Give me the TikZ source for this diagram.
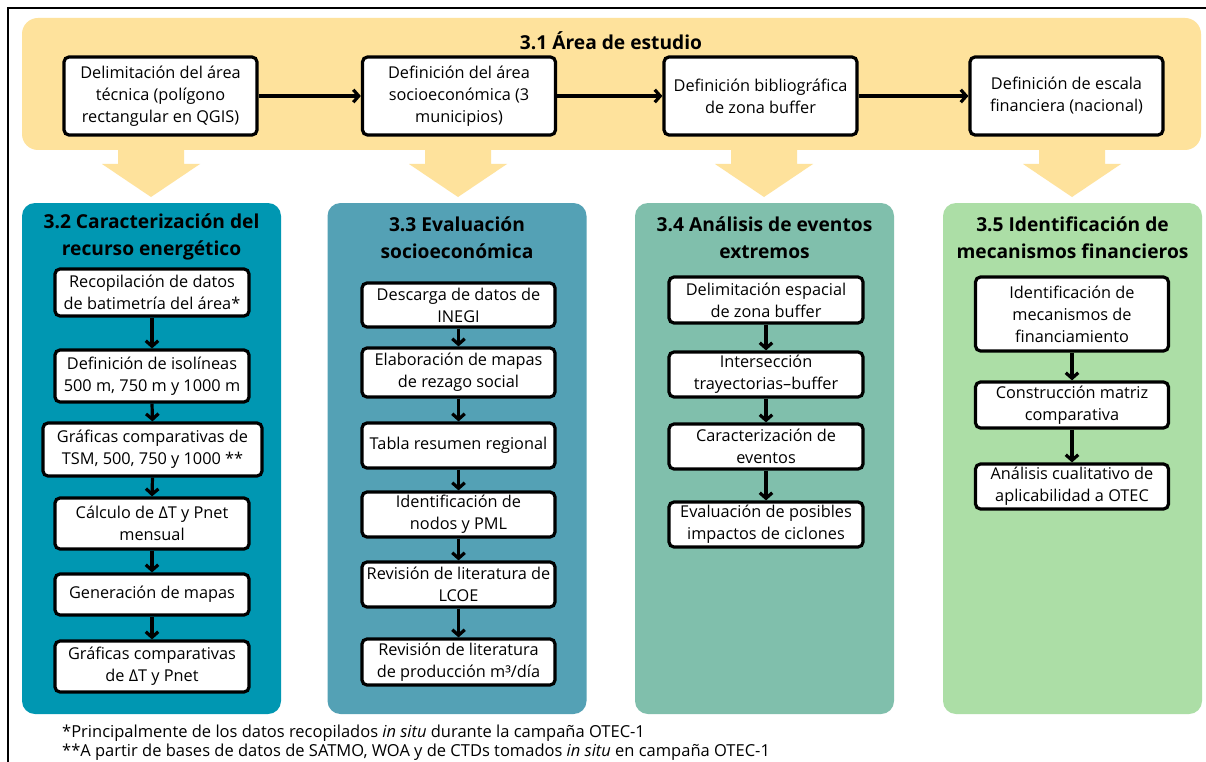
\documentclass[tikz,border=0pt]{standalone}
\usepackage{fontspec}
\setmainfont{Open Sans}
\usetikzlibrary{arrows.meta}

\definecolor{bandyellow}{HTML}{FEE29C}
\definecolor{panelteal}{HTML}{0097B2}
\definecolor{panelblue}{HTML}{54A1B5}
\definecolor{panelsea}{HTML}{80BFAC}
\definecolor{panelgreen}{HTML}{ACDEA6}

\begin{document}
\begin{tikzpicture}[x=1pt, y=-1pt,
    stepbox/.style={draw, line width=3.2pt, fill=white, rounded corners=5pt, align=center, inner sep=0pt, font=\fontsize{16.3}{22}\selectfont},
    panel/.style={rounded corners=13pt, minimum width=259pt, minimum height=511pt, inner sep=0pt},
    paneltitle/.style={align=center, inner sep=0pt, font=\bfseries\fontsize{19.2}{27}\selectfont},
    flow/.style={line width=3.2pt, -{Straight Barb[length=5.5pt,width=12.5pt]}}]
    \useasboundingbox (0,0) rectangle (1206,762);
    \fill[white] (0,0) rectangle (1206,762);
    \draw[line width=1.8pt] (8,762) -- (8,8) -- (1206,8);
    % Study area band
    \node[fill=bandyellow, rounded corners=16pt, minimum width=1179pt, minimum height=132pt, inner sep=0pt] (area) at (611.5,84) {};
    \node[paneltitle] (areatitle) at (611,41) {3.1 Área de estudio};
    \node[stepbox, minimum width=193pt, minimum height=78pt] (delim) at (160.5,96) {Delimitación del área\\técnica (polígono\\rectangular en QGIS)};
    \node[stepbox, minimum width=193pt, minimum height=78pt] (socio) at (459,96) {Definición del área\\socioeconómica (3\\municipios)};
    \node[stepbox, minimum width=193pt, minimum height=78pt] (biblio) at (760.5,96) {Definición bibliográfica\\de zona buffer};
    \node[stepbox, minimum width=193pt, minimum height=78pt] (escala) at (1066.5,96) {Definición de escala\\financiera (nacional)};
    \draw[flow] (delim.east) -- (socio.west);
    \draw[flow] (socio.east) -- (biblio.west);
    \draw[flow] (biblio.east) -- (escala.west);
    % Big arrows down to the sections
    \foreach \cx in {151,458,764,1072}
        \fill[bandyellow] ({\cx-33},148) -- ({\cx+33},148) -- ({\cx+33},164) -- ({\cx+49},164) -- (\cx,197) -- ({\cx-49},164) -- ({\cx-33},164) -- cycle;
    % Sections
    \node[panel, fill=panelteal] (recurso) at (151.5,458.5) {};
    \node[panel, fill=panelblue] (socioeco) at (457,458.5) {};
    \node[panel, fill=panelsea] (eventos) at (764.5,458.5) {};
    \node[panel, fill=panelgreen] (finanzas) at (1072.5,458.5) {};
    \node[paneltitle] (recursotitle) at (151.5,237) {3.2 Caracterización del\\recurso energético};
    \node[paneltitle] (socioecotitle) at (457,238) {3.3 Evaluación\\socioeconómica};
    \node[paneltitle] (eventostitle) at (764.5,238) {3.4 Análisis de eventos\\extremos};
    \node[paneltitle] (finanzastitle) at (1072.5,238) {3.5 Identificación de\\mecanismos financieros};
    % 3.2 steps
    \node[stepbox, minimum width=194pt, minimum height=47pt] (batim) at (152,292.5) {Recopilación de datos\\de batimetría del área*};
    \node[stepbox, minimum width=194pt, minimum height=52pt] (isolin) at (152,376) {Definición de isolíneas\\500 m, 750 m y 1000 m};
    \node[stepbox, minimum width=219pt, minimum height=53pt] (tsm) at (152.5,449.5) {Gráficas comparativas de\\TSM, 500, 750 y 1000 **};
    \node[stepbox, minimum width=194pt, minimum height=51pt] (calculo) at (152,523.5) {Cálculo de ΔT y Pnet\\mensual};
    \node[stepbox, minimum width=194pt, minimum height=41pt] (mapas) at (152,594.5) {Generación de mapas};
    \node[stepbox, minimum width=194pt, minimum height=51pt] (graf) at (152,666.5) {Gráficas comparativas\\de ΔT y Pnet};
    \draw[flow] (batim.south) -- (isolin.north);
    \draw[flow] (isolin.south) -- (tsm.north);
    \draw[flow] (tsm.south) -- (calculo.north);
    \draw[flow] (calculo.south) -- (mapas.north);
    \draw[flow] (mapas.south) -- (graf.north);
    % 3.3 steps
    \node[stepbox, minimum width=193pt, minimum height=44pt] (inegi) at (458.5,305) {Descarga de datos de\\INEGI};
    \node[stepbox, minimum width=193pt, minimum height=49pt] (rezago) at (458.5,372.5) {Elaboración de mapas\\de rezago social};
    \node[stepbox, minimum width=193pt, minimum height=45pt] (tabla) at (458.5,445.5) {Tabla resumen regional};
    \node[stepbox, minimum width=193pt, minimum height=45pt] (nodos) at (458.5,514.5) {Identificación de\\nodos y PML};
    \node[stepbox, minimum width=193pt, minimum height=45pt] (lcoe) at (458.5,584.5) {Revisión de literatura de\\LCOE};
    \node[stepbox, minimum width=193pt, minimum height=46pt] (prod) at (458.5,662) {Revisión de literatura\\de producción m³/día};
    \draw[flow] (inegi.south) -- (rezago.north);
    \draw[flow] (rezago.south) -- (tabla.north);
    \draw[flow] (tabla.south) -- (nodos.north);
    \draw[flow] (nodos.south) -- (lcoe.north);
    \draw[flow] (lcoe.south) -- (prod.north);
    % 3.4 steps
    \node[stepbox, minimum width=194pt, minimum height=46pt] (espacial) at (766,300) {Delimitación espacial\\de zona buffer};
    \node[stepbox, minimum width=194pt, minimum height=45pt] (inters) at (766,374.5) {Intersección\\trayectorias–buffer};
    \node[stepbox, minimum width=194pt, minimum height=45pt] (caract) at (766,446.5) {Caracterización de\\eventos};
    \node[stepbox, minimum width=194pt, minimum height=45pt] (impactos) at (766,524.5) {Evaluación de posibles\\impactos de ciclones};
    \draw[flow] (espacial.south) -- (inters.north);
    \draw[flow] (inters.south) -- (caract.north);
    \draw[flow] (caract.south) -- (impactos.north);
    % 3.5 steps
    \node[stepbox, minimum width=193pt, minimum height=74pt] (mecan) at (1072,314) {Identificación de\\mecanismos de\\financiamiento};
    \node[stepbox, minimum width=193pt, minimum height=46pt] (matriz) at (1072,405) {Construcción matriz\\comparativa};
    \node[stepbox, minimum width=193pt, minimum height=45pt] (aplic) at (1072,486.5) {Análisis cualitativo de\\aplicabilidad a OTEC};
    \draw[flow] (mecan.south) -- (matriz.north);
    \draw[flow] (matriz.south) -- (aplic.north);
    % Notes
    \node[anchor=west, inner sep=0pt, font=\fontsize{16.5}{18}\selectfont] (nota1) at (62,733) {*Principalmente de los datos recopilados \textit{in situ} durante la campaña OTEC-1};
    \node[anchor=west, inner sep=0pt, font=\fontsize{16.5}{18}\selectfont] (nota2) at (62,752) {**A partir de bases de datos de SATMO, WOA y de CTDs tomados \textit{in situ} en campaña OTEC-1};
\end{tikzpicture}
\end{document}
